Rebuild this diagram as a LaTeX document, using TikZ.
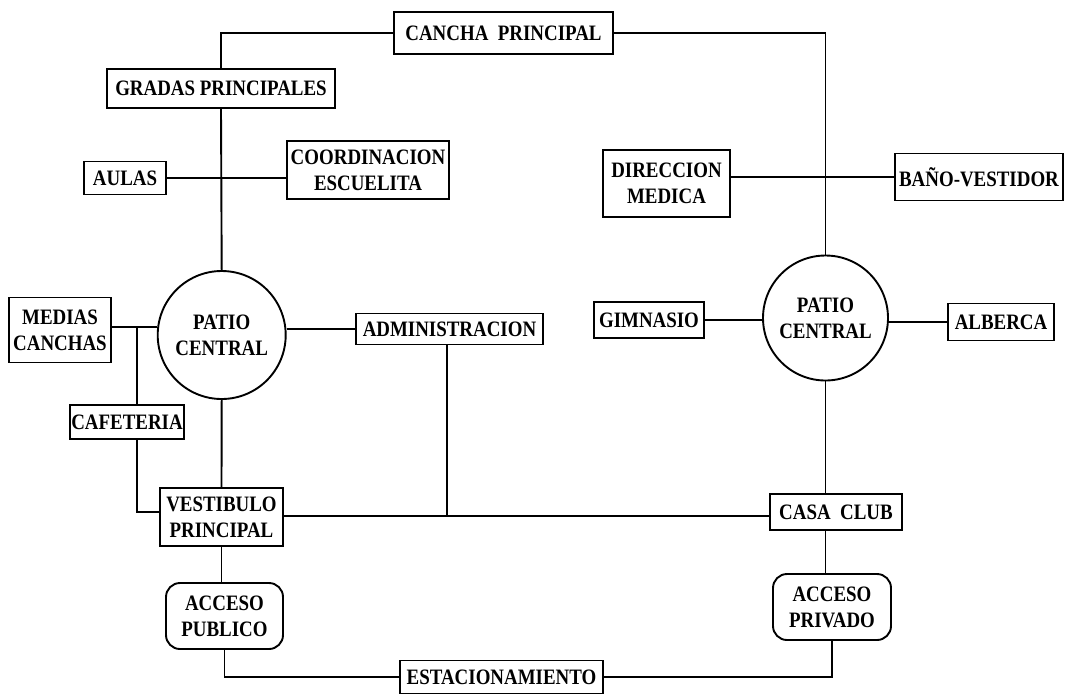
\documentclass[tikz,border=0pt]{standalone}
\usepackage{fontspec}
\setmainfont{Liberation Serif}[FakeStretch=0.86]
\tikzset{
  box/.style={draw, line width=1.9pt, inner sep=0pt, align=center,
    font=\bfseries\fontsize{22}{26}\selectfont},
  rbox/.style={box, rounded corners=14pt},
  patio/.style={box, circle},
  link/.style={line width=1.9pt},
}
\begin{document}
\begin{tikzpicture}[x=1pt, y=-1pt]
\useasboundingbox (0,0) rectangle (1065,694);

\node[box, minimum width=219pt, minimum height=42pt] (cancha) at (503.5,33) {CANCHA\ \ PRINCIPAL};
\node[box, minimum width=228pt, minimum height=39pt] (gradas) at (221,88.5) {GRADAS PRINCIPALES};
\node[box, minimum width=82pt, minimum height=33pt] (aulas) at (125,178) {AULAS};
\node[box, minimum width=162pt, minimum height=58pt] (coord) at (368,170) {COORDINACION\\ESCUELITA};
\node[box, minimum width=127pt, minimum height=67pt] (direccion) at (666.5,183.5) {DIRECCION\\MEDICA};
\node[box, minimum width=168pt, minimum height=47pt] (bano) at (979,177) {BAÑO-VESTIDOR};

\node[box, minimum width=102pt, minimum height=65pt] (medias) at (60,330) {MEDIAS\\CANCHAS};
\node[patio, minimum size=128pt] (patio1) at (221.7,335) {PATIO\\CENTRAL};
\node[box, minimum width=187pt, minimum height=31pt] (admin) at (449.5,329) {ADMINISTRACION};
\node[box, minimum width=114pt, minimum height=34pt] (cafeteria) at (127,422) {CAFETERIA};

\node[box, minimum width=110pt, minimum height=36pt] (gimnasio) at (649,320) {GIMNASIO};
\node[patio, minimum size=125pt] (patio2) at (825.5,318) {PATIO\\CENTRAL};
\node[box, minimum width=106pt, minimum height=37pt] (alberca) at (1001,322) {ALBERCA};

\node[box, minimum width=123pt, minimum height=58pt] (vestibulo) at (221.5,517) {VESTIBULO\\PRINCIPAL};
\node[box, minimum width=132pt, minimum height=36pt] (casa) at (836,512) {CASA\ \ CLUB};
\node[rbox, minimum width=117pt, minimum height=66pt] (publico) at (224.5,616) {ACCESO\\PUBLICO};
\node[rbox, minimum width=118pt, minimum height=66pt] (privado) at (832,607) {ACCESO\\PRIVADO};
\node[box, minimum width=203pt, minimum height=33pt] (est) at (501.5,677) {ESTACIONAMIENTO};

\coordinate (j1) at (136.7,326.7);
\coordinate (j3) at (136.7,512);
\coordinate (j2) at (447,516);

\draw[link] (cancha.west) -| (gradas.north);
\draw[link] (cancha.east) -| (patio2.north);
\draw[link] (gradas.south) -- (patio1.north);
\draw[link] (aulas.east) -- (aulas.east -| coord.west);
\draw[link] (bano.west) -- (bano.west -| direccion.east);
\draw[link] (medias.east |- j1) -- (j1 -| patio1.west);
\draw[link] (j1) -- (j1 |- cafeteria.north);
\draw[link] (j1 |- cafeteria.south) -- (j3) -- (j3 -| vestibulo.west);
\draw[link] (patio1.south) -- (vestibulo.north);
\draw[link] (patio1.east |- admin.west) -- (admin.west);
\draw[link] (admin.south -| j2) -- (j2);
\draw[link] (vestibulo.east |- j2) -- (casa.west |- j2);
\draw[link] (patio2.south) -- (patio2.south |- casa.north);
\draw[link] (patio2.south |- casa.south) -- (patio2.south |- privado.north);
\draw[link] (gimnasio.east) -- (gimnasio.east -| patio2.west);
\draw[link] (patio2.east |- alberca.west) -- (alberca.west);
\draw[link] (vestibulo.south) -- (vestibulo.south |- publico.north);
\draw[link] (publico.south) |- (est.west);
\draw[link] (privado.south) |- (est.east);
\end{tikzpicture}
\end{document}
